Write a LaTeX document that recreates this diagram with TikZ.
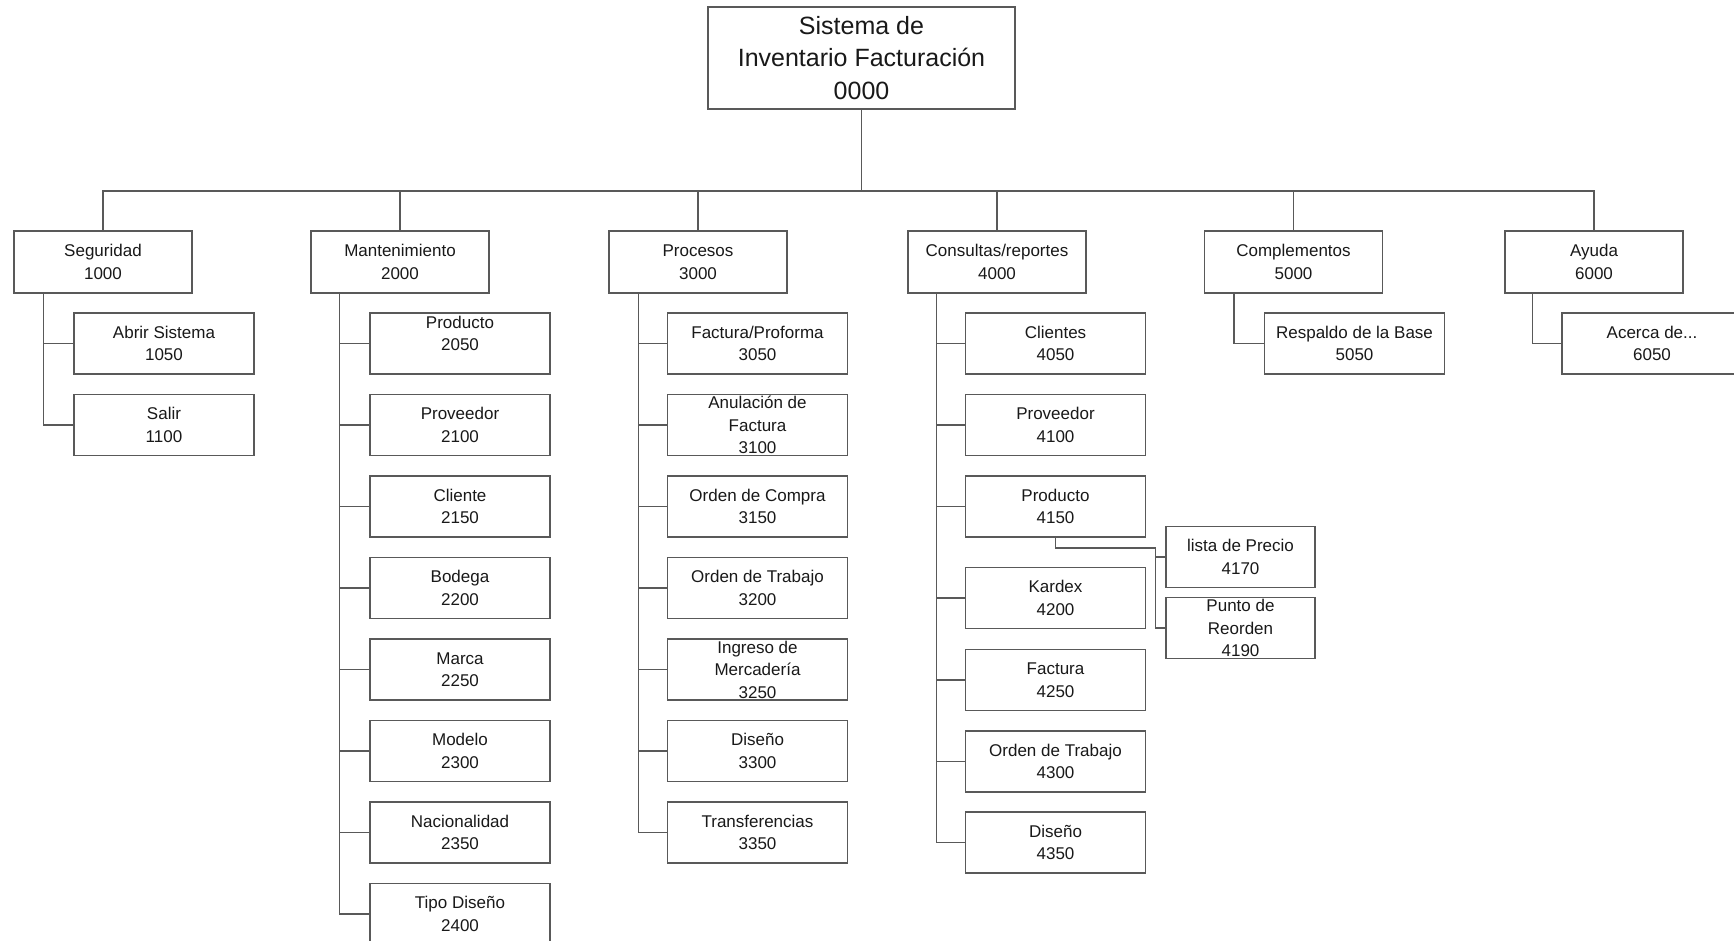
\documentclass[tikz,border=0pt]{standalone}
\usepackage{fontspec}
\setmainfont{Liberation Sans}
\begin{document}
\begin{tikzpicture}[x=1pt,y=-1pt,
  box/.style={draw=black!65, line width=1.5pt, fill=white, align=center, inner sep=0pt, font=\fontsize{17}{22.5}\selectfont, text=black!90},
  l1/.style={box, minimum width=178pt, minimum height=62pt},
  l2/.style={box, minimum width=180pt, minimum height=61pt},
  l3/.style={box, minimum width=149pt, minimum height=61pt},
  wire/.style={draw=black!65, line width=1.5pt},
  lbl/.style={align=center, inner sep=0pt, font=\fontsize{17}{22.5}\selectfont, text=black!90}]
\useasboundingbox[fill=white] (0,0) rectangle (1734,940);

% root
\node[box, minimum width=307pt, minimum height=102pt, font=\fontsize{25}{32.5}\selectfont] (root) at (861.5,58) {Sistema de\\Inventario Facturación\\0000};
\coordinate (bus) at (0,191);

% level 1
\node[l1] (seg) at (103,262) {Seguridad\\1000};
\node[l1] (man) at (400,262) {Mantenimiento\\2000};
\node[l1] (pro) at (698,262) {Procesos\\3000};
\node[l1] (con) at (997,262) {Consultas/reportes\\4000};
\node[l1] (com) at (1293.5,262) {Complementos\\5000};
\node[l1] (ayu) at (1594,262) {Ayuda\\6000};

\foreach \n in {seg,man,pro,con,com,ayu}
  \draw[wire] (root.south) -- (root.south |- bus) -| (\n.north);

% Seguridad
\node[l2] (s1050) at (164,343.5) {Abrir Sistema\\1050};
\node[l2] (s1100) at (164,425) {Salir\\1100};
\foreach \n in {s1050,s1100}
  \draw[wire] ([xshift=30pt]seg.south west) |- (\n.west);

% Mantenimiento
\node[l2] (m2050) at (460,343.5) {};
\node[lbl] (m2050t) at (460,333.5) {Producto\\2050};
\node[l2] (m2100) at (460,425) {Proveedor\\2100};
\node[l2] (m2150) at (460,506.5) {Cliente\\2150};
\node[l2] (m2200) at (460,588) {Bodega\\2200};
\node[l2] (m2250) at (460,669.5) {Marca\\2250};
\node[l2] (m2300) at (460,751) {Modelo\\2300};
\node[l2] (m2350) at (460,832.5) {Nacionalidad\\2350};
\node[l2] (m2400) at (460,914) {Tipo Diseño\\2400};
\foreach \n in {m2050,m2100,m2150,m2200,m2250,m2300,m2350,m2400}
  \draw[wire] ([xshift=29pt]man.south west) |- (\n.west);

% Procesos
\node[l2] (p3050) at (757.5,343.5) {Factura/Proforma\\3050};
\node[l2] (p3100) at (757.5,425) {Anulación de\\Factura\\3100};
\node[l2] (p3150) at (757.5,506.5) {Orden de Compra\\3150};
\node[l2] (p3200) at (757.5,588) {Orden de Trabajo\\3200};
\node[l2] (p3250) at (757.5,669.5) {Ingreso de\\Mercadería\\3250};
\node[l2] (p3300) at (757.5,751) {Diseño\\3300};
\node[l2] (p3350) at (757.5,832.5) {Transferencias\\3350};
\foreach \n in {p3050,p3100,p3150,p3200,p3250,p3300,p3350}
  \draw[wire] ([xshift=30pt]pro.south west) |- (\n.west);

% Consultas
\node[l2] (c4050) at (1055.5,343.5) {Clientes\\4050};
\node[l2] (c4100) at (1055.5,425) {Proveedor\\4100};
\node[l2] (c4150) at (1055.5,506.5) {Producto\\4150};
\node[l2] (c4200) at (1055.5,598) {Kardex\\4200};
\node[l2] (c4250) at (1055.5,680) {Factura\\4250};
\node[l2] (c4300) at (1055.5,761.5) {Orden de Trabajo\\4300};
\node[l2] (c4350) at (1055.5,842.5) {Diseño\\4350};
\foreach \n in {c4050,c4100,c4150,c4200,c4250,c4300,c4350}
  \draw[wire] ([xshift=29pt]con.south west) |- (\n.west);

% Producto sub-items
\node[l3] (c4170) at (1240.5,557) {lista de Precio\\4170};
\node[l3] (c4190) at (1240.5,628) {Punto de\\Reorden\\4190};
\draw[wire] (c4150.south) |- ([xshift=-10pt,yshift=9pt]c4170.west) |- (c4190.west);
\draw[wire] ([xshift=-10pt]c4170.west) -- (c4170.west);

% Complementos
\node[l2] (k5050) at (1354.5,343.5) {Respaldo de la Base\\5050};
\draw[wire] ([xshift=30pt]com.south west) |- (k5050.west);

% Ayuda
\node[l2] (a6050) at (1652,343.5) {Acerca de...\\6050};
\draw[wire] ([xshift=28pt]ayu.south west) |- (a6050.west);
\end{tikzpicture}
\end{document}
